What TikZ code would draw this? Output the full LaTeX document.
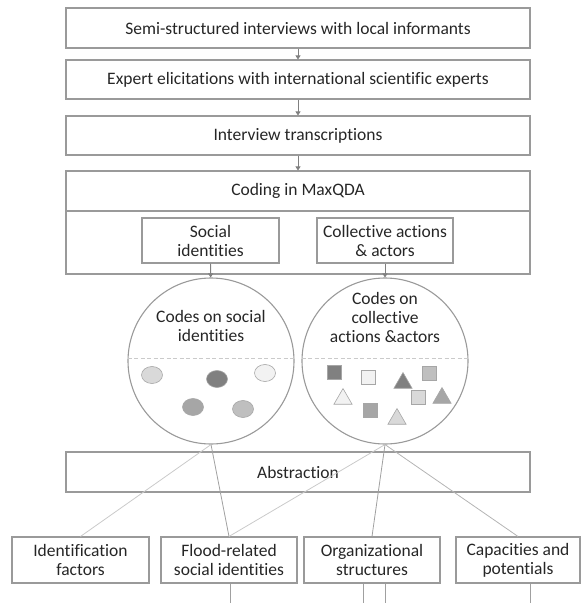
\documentclass[tikz,border=0pt]{standalone}
\usepackage{fontspec}
\setmainfont{Carlito}[Ligatures={NoCommon}]
\usetikzlibrary{arrows.meta,shapes.geometric}
\definecolor{edge}{HTML}{9A9A9A}
\definecolor{tipgray}{HTML}{808080}
\definecolor{lnlight}{HTML}{CACACA}
\definecolor{lnmid}{HTML}{B4B4B4}
\definecolor{lndark}{HTML}{A0A0A0}
\definecolor{gA}{HTML}{808080}
\definecolor{gB}{HTML}{A6A6A6}
\definecolor{gC}{HTML}{BFBFBF}
\definecolor{gD}{HTML}{D9D9D9}
\definecolor{gE}{HTML}{F2F2F2}
\tikzset{
  every node/.style={font=\fontsize{17.5}{19}\selectfont, text=black!85, align=center},
  box/.style={draw=edge, line width=1.1pt, rectangle, inner sep=0pt},
  wide/.style={box, minimum width=464pt},
  leaf/.style={box, minimum height=46pt},
  codes/.style={draw=edge, line width=1.1pt, circle, minimum size=166pt, inner sep=0pt},
  flow/.style={draw=tipgray, line width=0.8pt, -{Triangle[width=5pt,length=4pt]}},
  dot/.style={ellipse, draw=gB, line width=0.6pt, minimum width=21pt, minimum height=17pt, inner sep=0pt},
  sq/.style={rectangle, draw=gB, line width=0.6pt, minimum size=14pt, inner sep=0pt},
  tri/.style={regular polygon, regular polygon sides=3, draw=gB, line width=0.6pt, minimum size=21pt, inner sep=0pt}
}
\begin{document}
\begin{tikzpicture}[x=1pt,y=-1pt]
\useasboundingbox (0,0) rectangle (583,603);

% data-collection steps
\node[wide, minimum height=40pt] (b1) at (298,28) {Semi-structured interviews with local informants};
\node[wide, minimum height=39pt] (b2) at (298,79.5) {Expert elicitations with international scientific experts};
\node[wide, minimum height=39pt] (b3) at (298,135.5) {Interview transcriptions};

% coding block with its title strip and the two coding categories
\node[wide, minimum height=103pt] (coding) at (298,222.5) {};
\node[wide, minimum height=40pt] (codingtitle) at (298,191) {Coding in MaxQDA};
\node[box, minimum width=137pt, minimum height=45pt] (social) at (210.5,240.5) {Social\\identities};
\node[box, minimum width=136pt, minimum height=45pt] (collective) at (385,240.5) {Collective actions\\\& actors};

\draw[flow] (b1) -- (b2);
\draw[flow] (b2) -- (b3);
\draw[flow] (b3) -- (codingtitle);

% code collections
\node[codes] (c1) at (211,361) {};
\node[codes] (c2) at (385,361) {};
\node (c1text) at (211,325.5) {Codes on social\\identities};
\node (c2text) at (385,317) {Codes on\\collective\\actions \&actors};
\draw[lnlight, line width=0.9pt, dash pattern=on 4pt off 2.5pt] (c1.178) -- (c1.2);
\draw[lnlight, line width=0.9pt, dash pattern=on 4pt off 2.5pt] (c2.178) -- (c2.2);
\draw[flow] (social) -- (c1);
\draw[flow] (collective) -- (c2);

% social identity codes
\node[dot, fill=gD] (s1) at (152,375) {};
\node[dot, fill=gA] (s2) at (217,379) {};
\node[dot, fill=gE] (s3) at (265,373) {};
\node[dot, fill=gB] (s4) at (193,407) {};
\node[dot, fill=gC] (s5) at (243,409) {};

% collective action codes
\node[sq, fill=gA] (a1) at (334,372) {};
\node[sq, fill=gE] (a2) at (368,377) {};
\node[tri, fill=gA] (a3) at (403,383) {};
\node[sq, fill=gC] (a4) at (429,373) {};
\node[tri, fill=gE] (a5) at (343,399) {};
\node[sq, fill=gD] (a6) at (418,397) {};
\node[tri, fill=gB] (a7) at (442,398) {};
\node[sq, fill=gB] (a8) at (370,410) {};
\node[tri, fill=gD] (a9) at (397,419) {};

% abstraction and resulting categories
\node[wide, minimum height=40pt] (abs) at (298,472) {Abstraction};
\node[leaf, minimum width=137pt] (k1) at (80.5,560) {Identification\\factors};
\node[leaf, minimum width=136pt] (k2) at (229,560) {Flood-related\\social identities};
\node[leaf, minimum width=136pt] (k3) at (372,560) {Organizational\\structures};
\node[leaf, minimum width=124pt] (k4) at (518,560) {Capacities and\\potentials};

\draw[lnlight, line width=0.8pt] (c1.south) -- (k1.north);
\draw[lndark, line width=0.8pt] (c1.south) -- (k2.north);
\draw[lnlight, line width=0.8pt] (c2.south) -- (k2.north);
\draw[lndark, line width=0.8pt] (c2.south) -- (k3.north);
\draw[lnmid, line width=0.8pt] (c2.south) -- (k4.north);

% links continuing below the categories
\coordinate (e2) at (230,603);
\coordinate (e3a) at (363,603);
\coordinate (e3b) at (385,603);
\coordinate (e4) at (530,603);
\draw[lndark, line width=0.8pt] (k2.south -| e2) -- (e2);
\draw[lndark, line width=0.8pt] (k3.south -| e3a) -- (e3a);
\draw[lndark, line width=0.8pt] (k3.south -| e3b) -- (e3b);
\draw[lndark, line width=0.8pt] (k4.south -| e4) -- (e4);
\end{tikzpicture}
\end{document}
